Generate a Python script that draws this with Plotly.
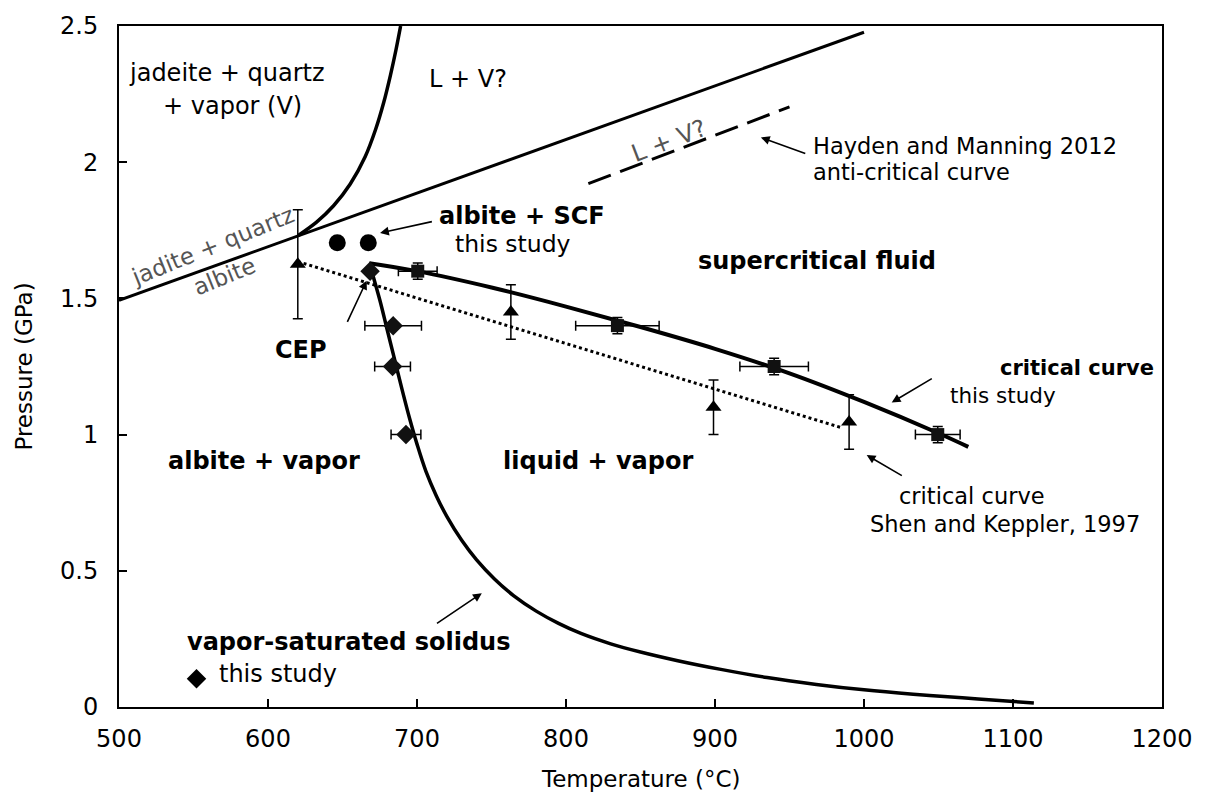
import plotly.graph_objects as go

FONT = "DejaVu Sans"

# ---------------- data ----------------
# jadeite + quartz = albite reaction line
reac_T = [500, 1000]
reac_P = [1.493, 2.477]

# steep boundary (jadeite + quartz + V / L + V?)
steep_T = [620.3, 632.6, 644.0, 655.2, 665.2, 672.2, 677.7, 682.2, 685.8, 689.0]
steep_P = [1.731, 1.780, 1.840, 1.920, 2.020, 2.120, 2.220, 2.320, 2.410, 2.500]

# Hayden and Manning 2012 anti-critical curve
hm_T = [815, 950]
hm_P = [1.921, 2.203]

# critical curve, this study
crit_T = [668, 700, 750, 800, 850, 900, 950, 1000, 1050, 1070]
crit_P = [1.629, 1.600, 1.540, 1.470, 1.395, 1.315, 1.225, 1.120, 1.005, 0.955]

# critical curve, Shen and Keppler 1997
sk_line_T = [620, 985]
sk_line_P = [1.635, 1.025]

# vapor-saturated solidus
sol_T = [669.6, 675, 680, 685, 690, 695, 700, 706, 713, 720, 730, 740, 752, 765, 780,
         795, 810, 830, 850, 875, 903, 935, 968, 1000, 1033, 1066, 1098, 1114]
sol_P = [1.600, 1.495, 1.385, 1.275, 1.165, 1.060, 0.965, 0.865, 0.775, 0.700, 0.612,
         0.540, 0.470, 0.408, 0.352, 0.307, 0.270, 0.232, 0.202, 0.170, 0.139, 0.108,
         0.083, 0.063, 0.047, 0.034, 0.021, 0.015]

# albite + SCF experiments
circ_T = [646.5, 667.3]
circ_P = [1.704, 1.704]

# solidus experiments (diamonds)
dia_T = [668.5, 684, 683.6, 692.6]
dia_P = [1.60, 1.40, 1.25, 1.00]
dia_Terr = [0, 19, 12, 10]

# critical curve experiments (squares)
sq_T = [700.5, 834.5, 939.7, 1049.5]
sq_P = [1.60, 1.40, 1.25, 1.00]
sq_Terr = [13, 28, 23, 15]
sq_Perr = [0.03, 0.03, 0.03, 0.03]

# Shen and Keppler 1997 (triangles)
tri_T = [620, 763, 899, 990]
tri_P = [1.625, 1.45, 1.10, 1.046]
tri_Perr = [0.2, 0.1, 0.1, 0.1]

# key symbol for "this study"
key_T = [552]
key_P = [0.104]

x_ticks = [500, 600, 700, 800, 900, 1000, 1100, 1200]
y_ticks = [0, 0.5, 1, 1.5, 2, 2.5]
y_ticktext = ["0", "0.5", "1", "1.5", "2", "2.5"]

# ---------------- figure ----------------
fig = go.Figure()

def line(x, y, width=3.5, dash="solid", spline=True):
    fig.add_trace(go.Scatter(x=x, y=y, mode="lines",
                             line=dict(color="black", width=width, dash=dash,
                                       shape="spline" if spline else "linear", smoothing=1.0),
                             showlegend=False, hoverinfo="skip"))

line(reac_T, reac_P, 3, spline=False)
line(steep_T, steep_P, 3.5)
line(hm_T, hm_P, 3, "24px,10px", spline=False)
line(crit_T, crit_P, 4)
line(sk_line_T, sk_line_P, 3, "dot", spline=False)
line(sol_T, sol_P, 3.5)

err_style = dict(color="black", thickness=1.5, width=5)

fig.add_trace(go.Scatter(x=tri_T, y=tri_P, mode="markers",
                         marker=dict(symbol="triangle-up", size=14, color="black"),
                         error_y=dict(type="data", array=tri_Perr, **err_style),
                         showlegend=False))
fig.add_trace(go.Scatter(x=sq_T, y=sq_P, mode="markers",
                         marker=dict(symbol="square", size=13, color="#111111"),
                         error_x=dict(type="data", array=sq_Terr, **err_style),
                         error_y=dict(type="data", array=sq_Perr, **err_style),
                         showlegend=False))
fig.add_trace(go.Scatter(x=dia_T, y=dia_P, mode="markers",
                         marker=dict(symbol="diamond", size=15, color="#111111"),
                         error_x=dict(type="data", array=dia_Terr, **err_style),
                         showlegend=False))
fig.add_trace(go.Scatter(x=circ_T, y=circ_P, mode="markers",
                         marker=dict(symbol="circle", size=17, color="black"),
                         showlegend=False))
fig.add_trace(go.Scatter(x=key_T, y=key_P, mode="markers",
                         marker=dict(symbol="diamond", size=15, color="black"),
                         showlegend=False))

ann = []

def text(x, y, t, size=23, bold=False, anchor="center", color="black", angle=0):
    ann.append(dict(x=x, y=y, xref="x", yref="y", text=t, showarrow=False,
                    xanchor=anchor, yanchor="middle", textangle=angle,
                    font=dict(family=FONT, size=size, color=color,
                              weight="bold" if bold else "normal")))

def arrow(x_head, y_head, x_tail, y_tail):
    ann.append(dict(x=x_head, y=y_head, ax=x_tail, ay=y_tail, xref="x", yref="y",
                    axref="x", ayref="y", text="", showarrow=True,
                    arrowhead=2, arrowsize=1.1, arrowwidth=1.6, arrowcolor="black"))

text(572.5, 2.326, "jadeite + quartz", 24)
text(576, 2.207, "+ vapor (V)", 24)
text(734.4, 2.305, "L + V?", 24)
text(869, 2.078, "L + V?", 24, color="#555555", angle=-21)
text(964.2, 2.060, "Hayden and Manning 2012", 22.5, anchor="left")
text(964.2, 1.964, "anti-critical curve", 22.5, anchor="left")
arrow(930.8, 2.091, 961.6, 2.030)

text(562.6, 1.692, "jadite + quartz", 23, color="#555555", angle=-22)
text(571.1, 1.583, "albite", 23, color="#555555", angle=-22)

text(713.2, 1.801, "albite + SCF", 24, bold=True, anchor="left")
text(724.2, 1.699, "this study", 23.5, anchor="left")
arrow(675.2, 1.740, 711, 1.783)

text(968.6, 1.638, "supercritical fluid", 24, bold=True)
text(622, 1.312, "CEP", 24, bold=True)
arrow(666.2, 1.565, 652.8, 1.408)

text(597.3, 0.902, "albite + vapor", 24, bold=True)
text(821.5, 0.902, "liquid + vapor", 24, bold=True)

text(1089.9, 1.245, "critical curve", 21, bold=True, anchor="left")
text(1056.6, 1.142, "this study", 21.5, anchor="left")
arrow(1018.6, 1.118, 1046.5, 1.209)

text(1021.9, 0.774, "critical curve", 22.5, anchor="left")
text(1002.9, 0.671, "Shen and Keppler, 1997", 22.5, anchor="left")
arrow(1001.8, 0.925, 1026.4, 0.846)

text(544.5, 0.237, "vapor-saturated solidus", 24, bold=True, anchor="left")
text(565.6, 0.122, "this study", 24, anchor="left")
arrow(743.5, 0.418, 712.4, 0.303)

# axis titles
ann.append(dict(x=0.5, y=-0.105, xref="paper", yref="paper", text="Temperature (°C)",
                showarrow=False, xanchor="center", yanchor="middle",
                font=dict(family=FONT, size=23, color="black")))
ann.append(dict(x=-0.092, y=0.5, xref="paper", yref="paper", text="Pressure (GPa)",
                showarrow=False, xanchor="center", yanchor="middle", textangle=-90,
                font=dict(family=FONT, size=23, color="black")))

fig.update_layout(
    width=1205, height=795,
    margin=dict(l=119, r=43, t=17, b=88),
    paper_bgcolor="white", plot_bgcolor="white",
    showlegend=False,
    annotations=ann,
    font=dict(family=FONT, color="black"),
)
fig.update_xaxes(range=[500, 1200], tickvals=x_ticks, ticks="inside", ticklen=8, tickwidth=2,
                 tickcolor="black", showline=True, linewidth=2, linecolor="black", mirror=True,
                 showgrid=False, zeroline=False, tickfont=dict(family=FONT, size=24, color="black"),
                 ticklabelstandoff=9)
fig.update_yaxes(range=[0, 2.5], tickvals=y_ticks, ticktext=y_ticktext, ticks="inside", ticklen=8,
                 tickwidth=2, tickcolor="black", showline=True, linewidth=2, linecolor="black",
                 mirror=True, showgrid=False, zeroline=False,
                 tickfont=dict(family=FONT, size=24, color="black"), ticklabelstandoff=14)

fig.write_html("out.html")
